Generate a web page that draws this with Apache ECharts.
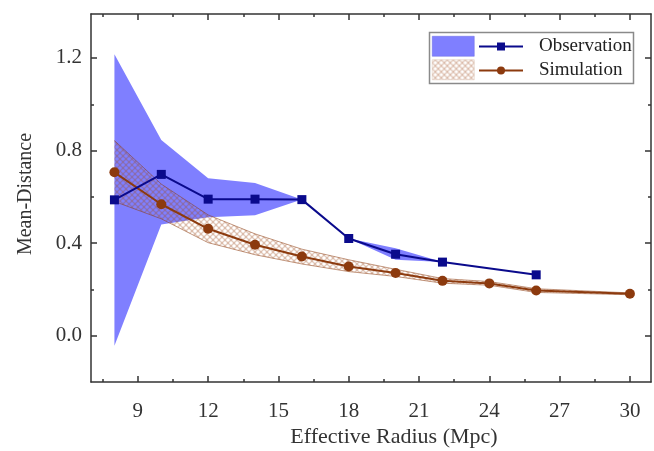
<!DOCTYPE html>
<html><head><meta charset="utf-8">
<script src="https://cdn.jsdelivr.net/npm/echarts@6/dist/echarts.min.js"></script>
<style>html,body{margin:0;padding:0;background:#fff}#c{width:654px;height:451px}</style>
</head><body><div id="c"></div>
<script>
// ---- data ----
const obsRadius = [8, 10, 12, 14, 16, 18, 20, 22, 26];
const obsMean   = [0.587, 0.697, 0.590, 0.590, 0.588, 0.420, 0.352, 0.318, 0.263];
const obsBandRadius = [8, 10, 12, 14, 16, 18, 20, 22];
const obsLower  = [-0.043, 0.480, 0.512, 0.520, 0.588, 0.420, 0.328, 0.318];
const obsUpper  = [1.216, 0.846, 0.680, 0.660, 0.588, 0.420, 0.378, 0.318];

const simRadius = [8, 10, 12, 14, 16, 18, 20, 22, 24, 26, 30];
const simMean   = [0.706, 0.568, 0.462, 0.393, 0.342, 0.299, 0.271, 0.237, 0.226, 0.195, 0.181];
const simLower  = [0.580, 0.505, 0.402, 0.350, 0.310, 0.277, 0.256, 0.227, 0.218, 0.187, 0.177];
const simUpper  = [0.843, 0.655, 0.522, 0.440, 0.374, 0.328, 0.287, 0.247, 0.234, 0.203, 0.185];

const xMajor = [9, 12, 15, 18, 21, 24, 27, 30];
const xMinor = [7.5, 10.5, 13.5, 16.5, 19.5, 22.5, 25.5, 28.5];
const yMajor = [0, 0.4, 0.8, 1.2];
const yMinor = [0.2, 0.6, 1.0];

// ---- styles ----
const FONT = '"Liberation Serif", "Times New Roman", serif';
const AX = '#333';
const OBS = '#0a0a8c';
const SIM = '#8c3a0e';
const OBS_FILL = '#7f7fff';

function makePattern() {
  const c = document.createElement('canvas');
  c.width = 6; c.height = 6;
  const g = c.getContext('2d');
  g.fillStyle = 'rgba(160,80,35,0.38)';
  g.fillRect(0, 0, 6, 6);
  g.globalCompositeOperation = 'destination-out';
  g.fillStyle = 'rgba(0,0,0,1)';
  [[0,0],[6,0],[0,6],[6,6],[3,3]].forEach(p => {
    g.beginPath(); g.arc(p[0], p[1], 1.8, 0, Math.PI * 2); g.fill();
  });
  return c;
}
const pattern = { image: makePattern(), repeat: 'repeat' };

const zip = (a, b) => a.map((v, i) => [v, b[i]]);
const bandRows = (xs, lo, hi) => xs.map((v, i) => [v, lo[i], hi[i]]);

// band polygon drawn through the cartesian scales (api.coord)
function bandRenderer(fill, stroke, lw) {
  return function (params, api) {
    if (params.dataIndex !== 0) return null;
    const n = params.dataInsideLength;
    const up = [], lo = [];
    for (let i = 0; i < n; i++) {
      const x = api.value(0, i);
      lo.push(api.coord([x, api.value(1, i)]));
      up.push(api.coord([x, api.value(2, i)]));
    }
    const pts = up.concat(lo.slice().reverse());
    const children = [{ type: 'polygon', shape: { points: pts }, style: { fill: fill, stroke: 'none' } }];
    if (stroke) {
      children.push({ type: 'polyline', shape: { points: up }, style: { fill: 'none', stroke: stroke, lineWidth: lw, opacity: 0.65 } });
      children.push({ type: 'polyline', shape: { points: lo }, style: { fill: 'none', stroke: stroke, lineWidth: lw, opacity: 0.65 } });
    }
    return { type: 'group', children: children };
  };
}

const gridRect = { left: 91, right: 3, top: 14, bottom: 69 };

function xAx(grid, pos, vals, len, line, label) {
  return {
    type: 'value', gridIndex: grid, position: pos, min: 7, max: 30.9,
    splitLine: { show: false },
    axisLine: { show: line, onZero: false, lineStyle: { color: AX, width: 1.5 } },
    axisTick: { show: true, inside: true, length: len, customValues: vals, lineStyle: { color: AX, width: 1.5 } },
    axisLabel: label ? { customValues: vals, fontSize: 21, fontFamily: FONT, color: '#333', margin: 19 } : { show: false }
  };
}
function yAx(grid, pos, vals, len, line, label) {
  return {
    type: 'value', gridIndex: grid, position: pos, min: -0.2, max: 1.39,
    splitLine: { show: false },
    axisLine: { show: line, onZero: false, lineStyle: { color: AX, width: 1.5 } },
    axisTick: { show: true, inside: true, length: len, customValues: vals, lineStyle: { color: AX, width: 1.5 } },
    axisLabel: label ? { customValues: vals, fontSize: 21, fontFamily: FONT, color: '#333', margin: 9,
                         formatter: v => v.toFixed(1) } : { show: false }
  };
}

const chart = echarts.init(document.getElementById('c'), null, { renderer: 'canvas' });
chart.setOption({
  animation: false,
  backgroundColor: '#fff',
  grid: [Object.assign({}, gridRect), Object.assign({}, gridRect)],
  xAxis: [
    xAx(0, 'bottom', xMajor, 6, true, true),
    xAx(0, 'top', xMajor, 6, true, false),
    xAx(1, 'bottom', xMinor, 3, false, false),
    xAx(1, 'top', xMinor, 3, false, false)
  ],
  yAxis: [
    yAx(0, 'left', yMajor, 6, true, true),
    yAx(0, 'right', yMajor, 6, true, false),
    yAx(1, 'left', yMinor, 3, false, false),
    yAx(1, 'right', yMinor, 3, false, false)
  ],
  legend: [
    {
      orient: 'vertical', left: 432, top: 36, padding: 0, itemWidth: 42, itemHeight: 20, itemGap: 3,
      formatter: () => '', selectedMode: false,
      data: [
        { name: 'Observation band', icon: 'rect', itemStyle: { color: OBS_FILL, borderColor: '#6a6ae0', borderWidth: 0.5 } },
        { name: 'Simulation band', icon: 'rect', itemStyle: { color: pattern, borderColor: '#d9c2b5', borderWidth: 0.5 } }
      ]
    },
    {
      orient: 'vertical', left: 478, top: 37, padding: 0, itemWidth: 44, itemHeight: 10, itemGap: 5,
      selectedMode: false,
      textStyle: { fontSize: 19, fontFamily: FONT, color: '#222', padding: [0, 0, 0, 11] },
      data: ['Observation', 'Simulation']
    }
  ],
  graphic: [
    { type: 'rect', shape: { x: 429.5, y: 32.5, width: 204, height: 51 },
      style: { fill: '#fff', stroke: '#8a8a8a', lineWidth: 1.5 } },
    { type: 'text', x: 394, y: 437, style: { text: 'Effective Radius (Mpc)', fontSize: 22, fontFamily: FONT,
      fill: '#333', textAlign: 'center', textVerticalAlign: 'middle' } },
    { type: 'text', x: 26, y: 194, rotation: Math.PI / 2, style: { text: 'Mean-Distance', fontSize: 20, fontFamily: FONT,
      fill: '#333', textAlign: 'center', textVerticalAlign: 'middle' } }
  ],
  series: [
    { name: 'Observation band', type: 'custom', xAxisIndex: 0, yAxisIndex: 0,
      data: bandRows(obsBandRadius, obsLower, obsUpper), encode: { x: 0, y: [1, 2] },
      renderItem: bandRenderer(OBS_FILL, null, 0), itemStyle: { color: OBS_FILL }, silent: true, z: 1, clip: true },
    { name: 'Simulation band', type: 'custom', xAxisIndex: 0, yAxisIndex: 0,
      data: bandRows(simRadius, simLower, simUpper), encode: { x: 0, y: [1, 2] },
      renderItem: bandRenderer(pattern, SIM, 0.8), itemStyle: { color: '#e8d2c4' }, silent: true, z: 2, clip: true },
    { name: 'Simulation', type: 'line', data: zip(simRadius, simMean), symbol: 'circle', symbolSize: 10,
      lineStyle: { color: SIM, width: 2 }, itemStyle: { color: SIM }, z: 3 },
    { name: 'Observation', type: 'line', data: zip(obsRadius, obsMean), symbol: 'rect', symbolSize: 9,
      lineStyle: { color: OBS, width: 2 }, itemStyle: { color: OBS }, z: 4 }
  ]
});
</script>
</body></html>
